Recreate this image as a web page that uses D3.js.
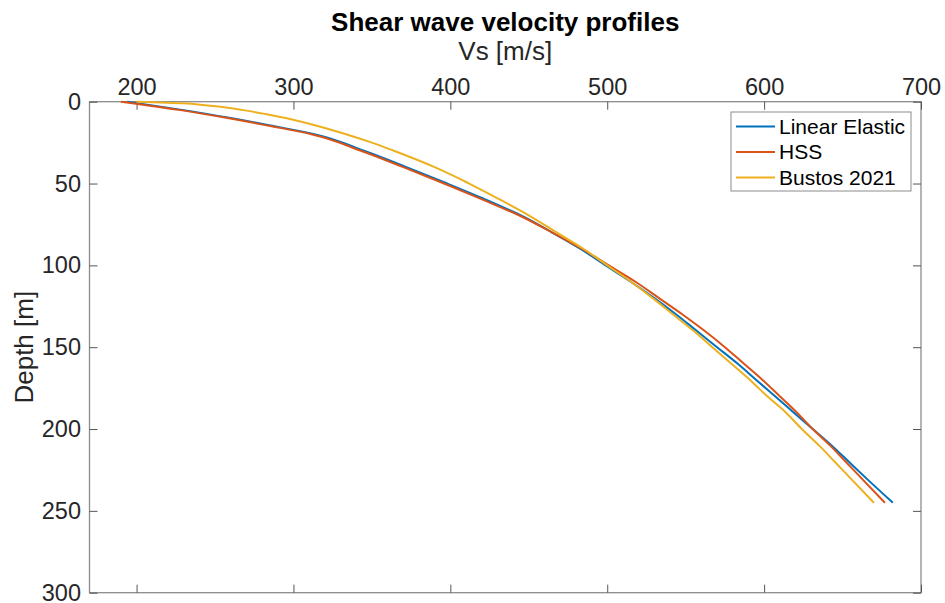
<!DOCTYPE html>
<html>
  <head>
    <meta charset="utf-8">
    <script src="https://d3js.org/d3.v7.min.js"></script>
    <style>
      body { margin: 0; background: #fff; }
      svg { font-family: "Liberation Sans", Arial, sans-serif; }
      .tick text { fill: #262626; }
    </style>
  </head>
  <body>
    <script>
      // depth values (m) shared by the three profiles
      const depths = [0, 5, 10, 15, 20, 30, 40, 50, 60, 70, 80, 90, 100, 110, 120, 130, 140, 150, 160, 170, 180, 190, 200, 210, 220, 230, 245]
      const linearElastic = [194, 229, 260, 288, 314, 345, 372, 398, 423, 446, 465, 483, 499, 515, 530, 544, 557, 570, 583, 595, 607, 619, 631, 643, 654, 665, 682]
      const hss = [190, 227, 258, 286, 312, 343, 370, 396, 421, 445, 465, 484, 501, 518, 533, 548, 562, 575, 587, 599, 610, 621, 631, 642, 652, 662, 677]
      const bustosDepths = [0, 1, 2, 3, 5, 7.5, 10, 15, 20, 25, 30, 40, 50, 60, 70, 80, 90, 100, 110, 120, 130, 140, 150, 160, 170, 180, 190, 200, 210, 220, 230, 245]
      const bustos = [200, 230, 242, 252, 267, 282, 295, 316, 334, 350, 364, 390, 412, 432, 451, 468, 485, 500, 515, 529, 542, 555, 567, 579, 591, 602, 614, 624, 635, 645, 655, 670]

      const xTicks = [200, 300, 400, 500, 600, 700]
      const yTicks = [0, 50, 100, 150, 200, 250, 300]

      const series = [
        {name: "Linear Elastic", color: "#0072BD", d: depths, v: linearElastic},
        {name: "HSS", color: "#D95319", d: depths, v: hss},
        {name: "Bustos 2021", color: "#EDB120", d: bustosDepths, v: bustos}
      ]

      const W = 945, H = 603
      const pLeft = 89.5, pRight = 921, pTop = 101.7, pBottom = 592.7

      const svg = d3.select("body").append("svg")
        .attr("width", W)
        .attr("height", H)

      const x = d3.scaleLinear().domain([170, 700]).range([pLeft, pRight])
      const y = d3.scaleLinear().domain([0, 300]).range([pTop, pBottom])

      const axisColor = "#8c8c8c"
      const tickColor = "#555"

      // box
      svg.append("rect")
        .attr("x", pLeft).attr("y", pTop)
        .attr("width", pRight - pLeft).attr("height", pBottom - pTop)
        .attr("fill", "none").attr("stroke", axisColor).attr("stroke-width", 1.3)

      const styleAxis = g => {
        g.select(".domain").remove()
        g.selectAll(".tick line").attr("stroke", tickColor).attr("stroke-width", 1)
        g.selectAll(".tick text").attr("font-size", 23.5)
      }

      // top axis with labels, ticks pointing inward
      svg.append("g")
        .attr("transform", "translate(0," + pTop + ")")
        .call(d3.axisTop(x).tickValues(xTicks).tickSizeInner(-8).tickSizeOuter(0).tickPadding(7))
        .call(styleAxis)
      svg.append("g")
        .attr("transform", "translate(0," + pBottom + ")")
        .call(d3.axisBottom(x).tickValues(xTicks).tickSizeInner(-8).tickSizeOuter(0).tickFormat(""))
        .call(styleAxis)

      svg.append("g")
        .attr("transform", "translate(" + pLeft + ",0)")
        .call(d3.axisLeft(y).tickValues(yTicks).tickSizeInner(-8).tickSizeOuter(0).tickPadding(8.5))
        .call(styleAxis)
      svg.append("g")
        .attr("transform", "translate(" + pRight + ",0)")
        .call(d3.axisRight(y).tickValues(yTicks).tickSizeInner(-8).tickSizeOuter(0).tickFormat(""))
        .call(styleAxis)

      // curves
      const line = d3.line()
        .x(p => x(p[0]))
        .y(p => y(p[1]))
        .curve(d3.curveMonotoneY)

      series.forEach(s => {
        svg.append("path")
          .datum(s.v.map((v, i) => [v, s.d[i]]))
          .attr("d", line)
          .attr("fill", "none")
          .attr("stroke", s.color)
          .attr("stroke-width", 2)
      })

      // titles
      svg.append("text")
        .attr("x", (pLeft + pRight) / 2).attr("y", 31)
        .attr("text-anchor", "middle")
        .attr("font-size", 26).attr("font-weight", "bold")
        .attr("fill", "#000")
        .text("Shear wave velocity profiles")
      svg.append("text")
        .attr("x", (pLeft + pRight) / 2).attr("y", 60)
        .attr("text-anchor", "middle")
        .attr("font-size", 26).attr("fill", "#262626")
        .text("Vs [m/s]")
      svg.append("text")
        .attr("transform", "translate(32.5," + (pTop + pBottom) / 2 + ") rotate(-90)")
        .attr("text-anchor", "middle")
        .attr("font-size", 26).attr("fill", "#262626")
        .text("Depth [m]")

      // legend
      const lg = svg.append("g").attr("transform", "translate(731,112)")
      lg.append("rect")
        .attr("width", 180).attr("height", 79)
        .attr("fill", "#fff").attr("stroke", axisColor).attr("stroke-width", 1)
      series.forEach((s, i) => {
        const yy = 14.5 + i * 25.5
        lg.append("line")
          .attr("x1", 5).attr("x2", 44).attr("y1", yy).attr("y2", yy)
          .attr("stroke", s.color).attr("stroke-width", 2)
        lg.append("text")
          .attr("x", 48).attr("y", yy).attr("dy", "0.35em")
          .attr("font-size", 21).attr("fill", "#000")
          .text(s.name)
      })
    </script>
  </body>
</html>
